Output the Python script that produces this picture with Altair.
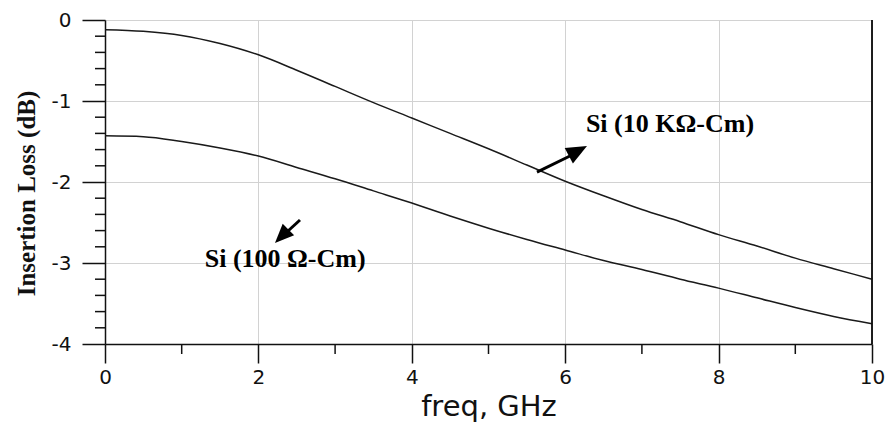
import altair as alt
import pandas as pd

# ---- data ----
freq = [0, 0.5, 1, 1.5, 2, 2.5, 3, 3.5, 4, 4.5, 5, 5.5, 6, 6.5, 7, 7.5, 8, 8.5, 9, 9.5, 10]
loss_10k = [-0.12, -0.14, -0.19, -0.29, -0.43, -0.62, -0.82, -1.02, -1.21, -1.40, -1.59,
            -1.79, -1.99, -2.17, -2.34, -2.49, -2.65, -2.79, -2.94, -3.07, -3.20]
loss_100 = [-1.43, -1.44, -1.50, -1.58, -1.68, -1.82, -1.96, -2.11, -2.26, -2.42, -2.57,
            -2.71, -2.84, -2.97, -3.08, -3.20, -3.31, -3.43, -3.55, -3.66, -3.75]

x_major = [0, 2, 4, 6, 8, 10]
x_minor = [1, 3, 5, 7, 9]
y_major = [0, -1, -2, -3, -4]
y_minor = [-0.2, -0.4, -0.6, -0.8, -1.2, -1.4, -1.6, -1.8, -2.2, -2.4, -2.6, -2.8,
           -3.2, -3.4, -3.6, -3.8]

ann_text = ["Si (10 K\u03a9-Cm)", "Si (100 \u03a9-Cm)"]
ann_x = [6.27, 1.30]
ann_y = [-1.383, -3.049]

arrow_tail_x = [5.632, 2.542]
arrow_tail_y = [-1.877, -2.469]
arrow_neck_x = [6.115, 2.386]
arrow_neck_y = [-1.654, -2.605]
arrow_tip_x = [6.284, 2.216]
arrow_tip_y = [-1.556, -2.753]
arrow_angle = [62, 225]
arrow_size = [424, 361]

# ---- tables ----
curves = pd.DataFrame({
    "freq": freq * 2,
    "loss": loss_10k + loss_100,
    "series": ["10k"] * len(freq) + ["100"] * len(freq),
})
ann = pd.DataFrame({"text": ann_text, "x": ann_x, "y": ann_y})
arrows = pd.DataFrame({
    "x": arrow_tail_x, "y": arrow_tail_y,
    "x2": arrow_neck_x, "y2": arrow_neck_y,
    "tx": arrow_tip_x, "ty": arrow_tip_y,
    "angle": arrow_angle, "size": arrow_size,
})
xminor = pd.DataFrame({"v": x_minor})
yminor = pd.DataFrame({"v": y_minor})

INK = "#111111"
xscale = alt.Scale(domain=[0, 10], nice=False, zero=False)
yscale = alt.Scale(domain=[-4, 0], nice=False, zero=False)

xaxis = alt.Axis(
    values=x_major, tickSize=19, tickWidth=1.5, tickColor=INK,
    domainColor=INK, domainWidth=1.5, grid=True, gridColor="#d2d2d2", gridWidth=1,
    labelFont="DejaVu Sans", labelFontSize=20, labelColor=INK,
    labelBaseline="alphabetic", labelPadding=20, labelFlush=False, labelOverlap=False,
    labelExpr="'' + datum.value",
    title="freq, GHz", titleFont="DejaVu Sans", titleFontSize=29,
    titleFontWeight="normal", titleColor=INK, titleX=383.5, titleY=71,
    titleAlign="center", titleBaseline="alphabetic",
)
yaxis = alt.Axis(
    values=y_major, tickSize=23, tickWidth=1.5, tickColor=INK,
    domainColor=INK, domainWidth=1.5, grid=True, gridColor="#d2d2d2", gridWidth=1,
    labelFont="DejaVu Sans", labelFontSize=20, labelColor=INK,
    labelPadding=11, labelFlush=False, labelOverlap=False,
    labelExpr="'' + datum.value",
    title="Insertion Loss (dB)", titleFont="Liberation Serif", titleFontSize=25,
    titleFontWeight="bold", titleColor=INK, titleAngle=270,
    titleX=-79, titleY=173, titleAlign="center", titleBaseline="middle",
)

lines = alt.Chart(curves).mark_line(
    color="#1a1a1a", strokeWidth=1.5, interpolate="monotone"
).encode(
    x=alt.X("freq:Q", scale=xscale, axis=xaxis),
    y=alt.Y("loss:Q", scale=yscale, axis=yaxis),
    detail="series:N",
)

x_minor_ticks = alt.Chart(xminor).mark_rule(color=INK, strokeWidth=1.5).encode(
    x=alt.X("v:Q", scale=xscale),
    y=alt.value(324), y2=alt.value(334),
)
y_minor_ticks = alt.Chart(yminor).mark_rule(color=INK, strokeWidth=1.5).encode(
    y=alt.Y("v:Q", scale=yscale),
    x=alt.value(-10), x2=alt.value(0),
)
right_border = alt.Chart(ann).mark_rule(color=INK, strokeWidth=1.5).encode(
    x=alt.X(datum=10, scale=xscale),
)

shafts = alt.Chart(arrows).mark_rule(color="black", strokeWidth=3).encode(
    x=alt.X("x:Q", scale=xscale), y=alt.Y("y:Q", scale=yscale),
    x2="x2:Q", y2="y2:Q",
)
heads = alt.Chart(arrows).mark_point(
    shape="M0,0L0.85,2L-0.85,2Z", filled=True, color="black", opacity=1, strokeWidth=0
).encode(
    x=alt.X("tx:Q", scale=xscale), y=alt.Y("ty:Q", scale=yscale),
    angle=alt.Angle("angle:Q", scale=None),
    size=alt.Size("size:Q", scale=None),
)
labels = alt.Chart(ann).mark_text(
    font="Liberation Serif", fontSize=26, fontWeight="bold", color="black",
    align="left", baseline="alphabetic",
).encode(
    x=alt.X("x:Q", scale=xscale), y=alt.Y("y:Q", scale=yscale), text="text:N",
)

chart = alt.layer(
    lines, x_minor_ticks, y_minor_ticks, right_border, shafts, heads, labels
).properties(
    width=767, height=324,
    autosize=alt.AutoSizeParams(type="none"),
    padding={"left": 105, "top": 20, "right": 14, "bottom": 82},
    background="white",
).configure_view(stroke="#aaaaaa", strokeWidth=1)

chart.save("out.html", embed_options={"renderer": "svg", "actions": False})
